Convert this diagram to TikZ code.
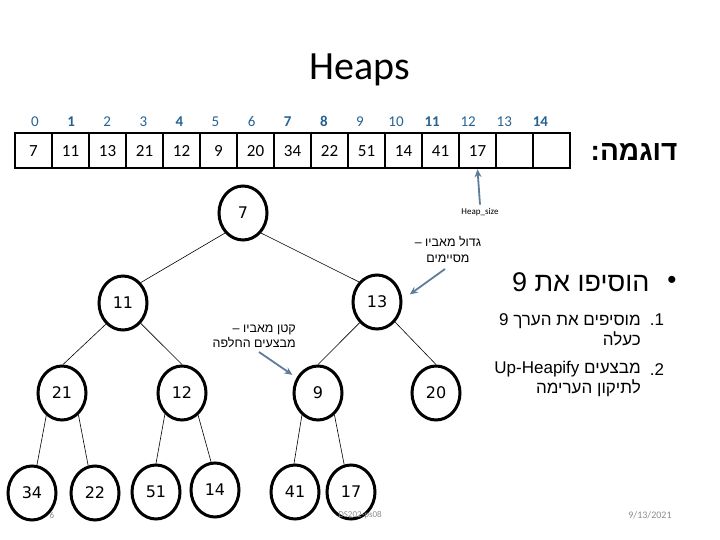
\documentclass[tikz,border=0pt]{standalone}
\usepackage{fontspec}
\setmainfont{Carlito}[Numbers=Lining]
\newfontfamily\hebfont[Script=Hebrew]{Liberation Sans}
\newfontfamily\numfont{DejaVu Sans}
\usetikzlibrary{shapes.geometric,arrows.meta}
\TeXXeTstate=1
\definecolor{idxblue}{RGB}{38,98,145}
\definecolor{pointerblue}{RGB}{96,124,152}
\definecolor{footgray}{RGB}{140,140,140}

\tikzset{
  heapnode/.style={ellipse,draw,line width=3pt,minimum width=48pt,minimum height=54pt,
    inner sep=0pt,text height=11.5pt,text depth=0pt,font=\numfont\fontsize{16}{18}\selectfont},
  cell/.style={draw,line width=2.5pt,minimum width=37pt,minimum height=35pt,inner sep=0pt,
    text height=11.5pt,text depth=0pt,font=\fontsize{17}{20}\selectfont},
  idx/.style={text=idxblue,text height=10pt,text depth=0pt,font=\fontsize{15}{18}\selectfont},
  tree/.style={line width=0.6pt},
  pointer/.style={draw=pointerblue,line width=1.8pt,-{Stealth[length=8pt,width=7pt]}},
  note/.style={font=\hebfont\fontsize{12.5}{16}\selectfont,inner sep=0pt},
  item/.style={font=\hebfont\fontsize{17}{19.5}\selectfont,inner sep=0pt},
  footer/.style={text=footgray,font=\fontsize{9}{11}\selectfont}
}

\begin{document}
\begin{tikzpicture}[x=1pt,y=-1pt]
  \useasboundingbox (0,0) rectangle (720,540);

  \node[font=\fontsize{40}{48}\selectfont] (title) at (360,70) {Heaps};

  % array
  \foreach \v [count=\i from 0] in {7,11,13,21,12,9,20,34,22,51,14,41,17,{},{}}
    \node[cell] (c\i) at ({33.5+37*\i},150.5) {\v};
  \foreach \s [count=\i from 0] in {{},\bfseries,{},{},\bfseries,{},{},\bfseries,\bfseries,{},{},\bfseries,{},{},\bfseries}
    \node[idx] (i\i) at ({35+36.1*\i},122) {\s\i};

  \node[font=\hebfont\bfseries\fontsize{28}{32}\selectfont,anchor=east] (example) at (681,152) {\beginR דוגמה:\endR};

  \node[font=\fontsize{9}{11}\selectfont] (hs) at (480,212) {Heap\_size};
  \draw[pointer] (hs.north) -- (c12.south);

  % tree
  \node[heapnode] (n7)  at (243,213) {7};
  \node[heapnode] (n11) at (123,303) {11};
  \node[heapnode] (n13) at (377,302) {13};
  \node[heapnode] (n21) at (62,393)  {21};
  \node[heapnode] (n12) at (182,393) {12};
  \node[heapnode] (n9)  at (318,393) {9};
  \node[heapnode] (n20) at (436,393) {20};
  \node[heapnode] (n34) at (32,493)  {34};
  \node[heapnode] (n22) at (95,493)  {22};
  \node[heapnode] (n51) at (156,492) {51};
  \node[heapnode] (n14) at (215,490) {14};
  \node[heapnode] (n41) at (295,492) {41};
  \node[heapnode] (n17) at (351,492) {17};

  \foreach \a/\pa/\b/\pb in {7/228/11/49,7/312/13/132,11/231/21/88,11/311/12/90,
      13/230/9/90,13/312/20/90,21/235/34/80,21/307/22/104,12/231/51/90,
      12/306/14/98,9/234/41/92,9/307/17/104}
    \draw[tree] (n\a.\pa) -- (n\b.\pb);

  % notes
  \node[note,align=center] (bignote) at (448,249)
    {\beginR גדול מאביו –\endR\\\beginR מסיימים\endR};
  \coordinate (bigtail) at (445,269);
  \draw[pointer] (bigtail) -- ([shift={(8,-1)}]n13.15);

  \node[note,align=right,anchor=east,font=\hebfont\fontsize{12.5}{15}\selectfont] (smallnote) at (296,336)
    {\beginR קטן מאביו –\endR\\\beginR מבצעים  החלפה\endR};
  \coordinate (smalltail) at (259,352);
  \draw[pointer] (smalltail) -- ([shift={(-4,-3)}]n9.145);

  % right block
  \node[font=\hebfont\fontsize{26}{30}\selectfont] (bullet) at (672,282) {•};
  \node[font=\hebfont\fontsize{27}{32}\selectfont,anchor=east] (addnine) at (653,282)
    {\beginR הוסיפו את 9\endR};
  \node[item] (one) at (657,320) {1.};
  \node[item,align=right,anchor=east] (stepone) at (641,330)
    {\beginR מוסיפים את הערך 9\endR\\\beginR כעלה\endR};
  \node[item] (two) at (657,370) {2.};
  \node[item,align=right,anchor=east] (steptwo) at (641,379)
    {\beginR מבצעים \beginL Up-Heapify\endL\endR\\\beginR לתיקון הערימה\endR};

  % footer
  \node[footer] (page) at (52,515) {6};
  \node[footer] (course) at (360,515) {DS202-ps08};
  \node[footer,font=\fontsize{10}{12}\selectfont] (date) at (650,515) {9/13/2021};
\end{tikzpicture}
\end{document}
